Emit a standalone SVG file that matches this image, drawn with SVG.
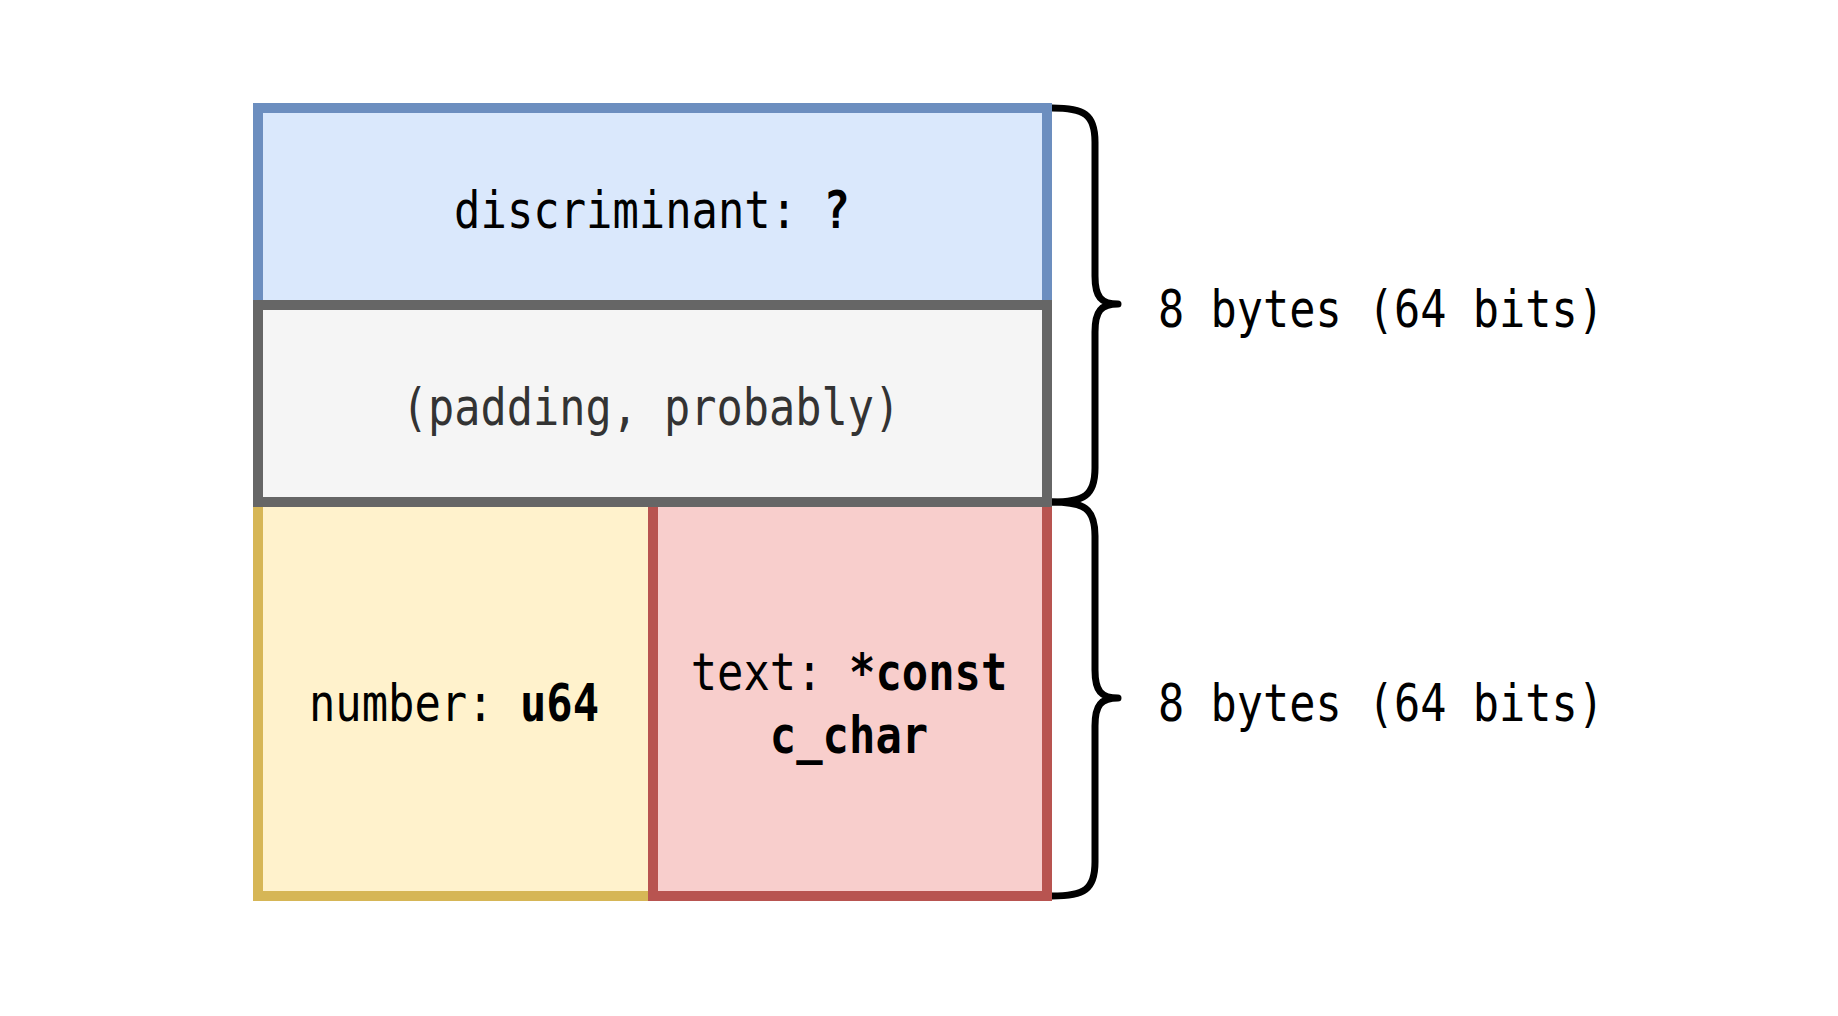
<svg xmlns="http://www.w3.org/2000/svg" width="1838" height="1016" viewBox="0 0 1838 1016">
<style>
.t{font-family:"DejaVu Sans Mono","Liberation Mono",monospace;font-size:52px;fill:#000}
.b{font-weight:bold}
.box{stroke-width:10}
.brace{fill:none;stroke:#000;stroke-width:7;stroke-linecap:butt;stroke-linejoin:round}
</style>
<rect width="1838" height="1016" fill="#ffffff"/>
<g id="discriminant">
<rect class="box" x="258" y="108" width="789" height="197" fill="#dae8fc" stroke="#6c8ebf"/>
<text class="t" text-anchor="middle" transform="translate(652,228) scale(0.843,1)">discriminant: <tspan class="b">?</tspan></text>
</g>
<g id="number">
<rect class="box" x="258" y="502" width="395" height="394" fill="#fff2cc" stroke="#d6b656"/>
<text class="t" text-anchor="middle" transform="translate(454,721) scale(0.843,1)">number: <tspan class="b">u64</tspan></text>
</g>
<g id="text">
<rect class="box" x="653" y="502" width="394" height="394" fill="#f8cecc" stroke="#b85450"/>
<text class="t" text-anchor="middle" transform="translate(849,690) scale(0.843,1)">text: <tspan class="b">*const</tspan></text>
<text class="t b" text-anchor="middle" transform="translate(849,753) scale(0.843,1)">c_char</text>
</g>
<g id="padding">
<rect class="box" x="258" y="305" width="789" height="197" fill="#f5f5f5" stroke="#666666"/>
<text class="t" text-anchor="middle" style="fill:#333333" transform="translate(651,425) scale(0.838,1)">(padding, probably)</text>
</g>
<g id="brace-top">
<path class="brace" d="M1052,108 C1084,108 1095,114 1095,142 L1095,276 C1095,297 1101,304 1118,304 C1101,304 1095,311 1095,332 L1095,468 C1095,496 1084,502 1052,502"/>
<text class="t" transform="translate(1158,327) scale(0.838,1)">8 bytes (64 bits)</text>
</g>
<g id="brace-bottom">
<path class="brace" d="M1052,502 C1084,502 1095,508 1095,536 L1095,670 C1095,691 1101,698 1118,698 C1101,698 1095,705 1095,726 L1095,862 C1095,890 1084,896 1052,896"/>
<text class="t" transform="translate(1158,721) scale(0.838,1)">8 bytes (64 bits)</text>
</g>
<g id="connectors"></g>
</svg>
